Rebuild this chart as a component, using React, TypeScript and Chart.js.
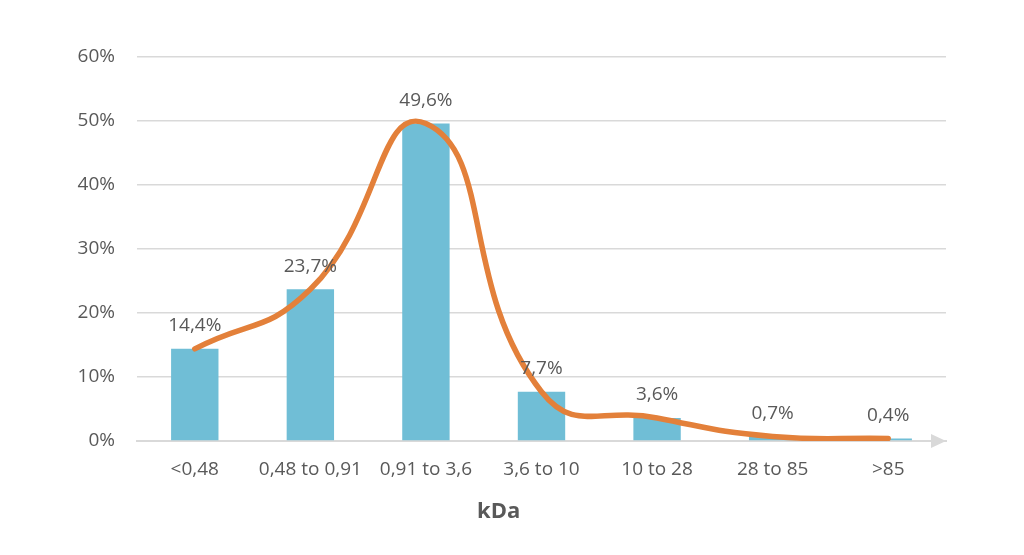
import React, { useEffect, useRef } from "react";
import { Chart, registerables } from "chart.js";

Chart.register(...registerables);

const categories = ["<0,48", "0,48 to 0,91", "0,91 to 3,6", "3,6 to 10", "10 to 28", "28 to 85", ">85"];
const barValues = [14.4, 23.7, 49.6, 7.7, 3.6, 0.7, 0.4];
const lineValues = [14.4, 23.7, 49.6, 7.7, 3.6, 0.7, 0.4];
const barLabels = ["14,4%", "23,7%", "49,6%", "7,7%", "3,6%", "0,7%", "0,4%"];
const yTicks = [0, 10, 20, 30, 40, 50, 60];
const axisTitle = "kDa";

const FONT = "'Open Sans', 'Noto Sans', sans-serif";
const TEXT = "#595959";

const overlayPlugin = {
  id: "overlay",
  afterDatasetsDraw(chart: any) {
    const ctx = chart.ctx;
    const meta = chart.getDatasetMeta(0);
    ctx.save();
    ctx.fillStyle = TEXT;
    ctx.font = `19px ${FONT}`;
    ctx.textAlign = "center";
    ctx.textBaseline = "middle";
    meta.data.forEach((bar: any, i: number) => {
      ctx.fillText(barLabels[i], bar.x, bar.y - 23);
    });
    ctx.restore();
  },
  afterDraw(chart: any) {
    const ctx = chart.ctx;
    const area = chart.chartArea;
    const y = chart.scales.y.getPixelForValue(0);
    ctx.save();
    ctx.fillStyle = "#d9d9d9";
    ctx.beginPath();
    ctx.moveTo(area.right, y);
    ctx.lineTo(area.right - 15, y - 7);
    ctx.lineTo(area.right - 15, y + 7);
    ctx.closePath();
    ctx.fill();
    ctx.fillStyle = TEXT;
    ctx.font = `bold 22px ${FONT}`;
    ctx.textAlign = "center";
    ctx.textBaseline = "middle";
    ctx.fillText(axisTitle, area.left + (area.right - area.left) * 0.447, 512);
    ctx.restore();
  },
};

export default function App() {
  const ref = useRef<HTMLCanvasElement>(null);
  useEffect(() => {
    document.body.style.margin = "0";
    const chart = new Chart(ref.current!, {
      type: "bar",
      data: {
        labels: categories,
        datasets: [
          {
            type: "bar",
            data: barValues,
            backgroundColor: "#70BED6",
            barPercentage: 0.41,
            categoryPercentage: 1,
            order: 2,
          },
          {
            type: "line",
            data: lineValues,
            borderColor: "#E3803A",
            borderWidth: 5.5,
            borderCapStyle: "round",
            pointRadius: 0,
            tension: 0.5,
            fill: false,
            order: 1,
          } as any,
        ],
      },
      options: {
        responsive: false,
        animation: false,
        layout: { padding: { top: 57, right: 78, bottom: 0, left: 0 } },
        plugins: { legend: { display: false }, tooltip: { enabled: false } },
        scales: {
          x: {
            grid: { display: false, drawTicks: false },
            border: { display: true, color: "#d9d9d9", width: 2 },
            ticks: { color: TEXT, font: { size: 19, family: FONT }, padding: 17 },
            afterFit: (s: any) => { s.height = 114; },
          },
          y: {
            min: 0,
            max: 60,
            afterBuildTicks: (s: any) => { s.ticks = yTicks.map((v) => ({ value: v })); },
            grid: { color: "#d9d9d9", lineWidth: 1.5, drawTicks: false },
            border: { display: false },
            ticks: {
              color: TEXT,
              font: { size: 19, family: FONT },
              padding: 22,
              callback: (v: any) => `${v}%`,
            },
            afterFit: (s: any) => { s.width = 137; },
          },
        },
      },
      plugins: [overlayPlugin],
    });
    return () => chart.destroy();
  }, []);
  return <canvas ref={ref} width={1024} height={555} style={{ display: "block" }} />;
}
